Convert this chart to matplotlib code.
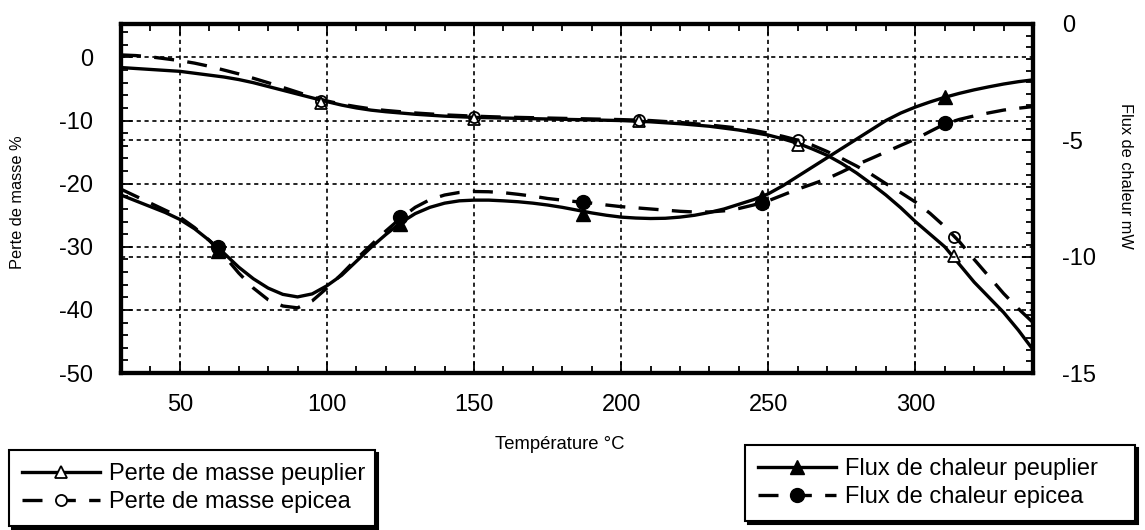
import numpy as np
import matplotlib
matplotlib.use("Agg")
import matplotlib.pyplot as plt
from matplotlib.lines import Line2D
from matplotlib.ticker import MultipleLocator

plt.rcParams["font.family"] = ["Liberation Sans", "DejaVu Sans"]
plt.rcParams["axes.unicode_minus"] = False

# ── data ───────────────────────────────────────────────────────────────────
temp = list(range(30, 341, 5))

# Perte de masse % (left axis)
masse_peuplier = [-1.6, -1.75, -1.9, -2.05, -2.2, -2.5, -2.8, -3.1, -3.5, -4.0,
                  -4.6, -5.2, -5.8, -6.4, -7.0, -7.55, -8.0, -8.35, -8.6, -8.8,
                  -9.0, -9.15, -9.3, -9.4, -9.5, -9.55, -9.6, -9.65, -9.7, -9.75,
                  -9.8, -9.85, -9.9, -9.95, -10.0, -10.1, -10.2, -10.35, -10.5, -10.7,
                  -10.9, -11.2, -11.5, -11.9, -12.3, -12.9, -13.6, -14.5, -15.5, -16.8,
                  -18.3, -20.0, -21.8, -23.8, -26.0, -28.0, -30.0, -32.8, -35.6, -38.0,
                  -40.4, -43.2, -46.3]
masse_epicea = [0.4, 0.3, 0.1, -0.2, -0.5, -0.9, -1.4, -2.0, -2.6, -3.3,
                -4.0, -4.75, -5.5, -6.25, -6.9, -7.4, -7.8, -8.15, -8.4, -8.6,
                -8.8, -8.95, -9.1, -9.2, -9.3, -9.38, -9.45, -9.5, -9.55, -9.6,
                -9.65, -9.7, -9.75, -9.8, -9.85, -9.92, -10.0, -10.15, -10.3, -10.5,
                -10.7, -10.95, -11.2, -11.55, -12.0, -12.5, -13.1, -13.9, -14.9, -16.0,
                -17.2, -18.5, -20.0, -21.4, -22.9, -24.7, -26.8, -29.2, -32.0, -34.7,
                -37.4, -39.8, -42.0]

# Flux de chaleur mW (right axis)
flux_peuplier = [-7.35, -7.6, -7.85, -8.1, -8.4, -8.8, -9.3, -9.85, -10.45, -10.95,
                 -11.35, -11.62, -11.73, -11.6, -11.25, -10.8, -10.2, -9.6, -9.05, -8.55,
                 -8.15, -7.88, -7.7, -7.6, -7.57, -7.57, -7.6, -7.64, -7.7, -7.78,
                 -7.88, -8.0, -8.12, -8.22, -8.3, -8.34, -8.36, -8.35, -8.3, -8.22,
                 -8.1, -7.95, -7.75, -7.55, -7.3, -6.95, -6.55, -6.15, -5.75, -5.35,
                 -4.95, -4.55, -4.15, -3.83, -3.57, -3.35, -3.15, -2.98, -2.83, -2.7,
                 -2.58, -2.48, -2.4]
flux_epicea = [-7.1, -7.4, -7.7, -8.0, -8.3, -8.75, -9.3, -9.95, -10.7, -11.35,
               -11.85, -12.12, -12.2, -11.9, -11.35, -10.75, -10.1, -9.5, -8.9, -8.35,
               -7.88, -7.55, -7.35, -7.24, -7.2, -7.21, -7.25, -7.32, -7.4, -7.5,
               -7.57, -7.64, -7.7, -7.78, -7.85, -7.9, -7.95, -8.0, -8.05, -8.08,
               -8.08, -8.03, -7.93, -7.78, -7.6, -7.35, -7.1, -6.88, -6.65, -6.36,
               -6.05, -5.78, -5.5, -5.22, -4.95, -4.62, -4.3, -4.1, -3.95, -3.82,
               -3.7, -3.62, -3.55]

# marker positions
mk_masse_t = [98, 150, 206, 260, 313]
mk_masse_peuplier = [-7.2, -9.7, -10.1, -13.8, -31.5]
mk_masse_epicea = [-6.9, -9.4, -9.9, -13.1, -28.5]

mk_flux_t = [63, 125, 187, 248, 310]
mk_flux_peuplier = [-9.75, -8.6, -8.15, -7.45, -3.15]
mk_flux_epicea = [-9.6, -8.3, -7.65, -7.7, -4.25]

# ── plotting ───────────────────────────────────────────────────────────────
LW = 2.4
DASH = (0, (6.0, 4.0))

fig = plt.figure(figsize=(11.45, 5.30), dpi=100)
ax = fig.add_axes([121 / 1145, 1 - 373 / 530, 912 / 1145, 349 / 530])
ax2 = ax.twinx()

grid_kw = dict(color="black", linewidth=1.2, linestyle=(0, (2.5, 2.2)))

ax.plot(temp, masse_peuplier, color="black", lw=LW, zorder=3)
ax.plot(temp, masse_epicea, color="black", lw=LW, linestyle=DASH, zorder=3)
ax.plot(mk_masse_t, mk_masse_peuplier, linestyle="none", marker="^", ms=8,
        mfc="white", mec="black", mew=1.3, zorder=4)
ax.plot(mk_masse_t, mk_masse_epicea, linestyle="none", marker="o", ms=8,
        mfc="none", mec="black", mew=1.3, zorder=4)

ax2.plot(temp, flux_peuplier, color="black", lw=LW, zorder=3)
ax2.plot(temp, flux_epicea, color="black", lw=LW, linestyle=DASH, zorder=3)
ax2.plot(mk_flux_t, mk_flux_peuplier, linestyle="none", marker="^", ms=10,
         color="black", zorder=4)
ax2.plot(mk_flux_t, mk_flux_epicea, linestyle="none", marker="o", ms=10,
         color="black", zorder=4)

ax.set_xlim(30, 340)
ax.set_ylim(-50, 5.3)
ax2.set_ylim(-15, 0)

ax.xaxis.set_major_locator(MultipleLocator(50))
ax.xaxis.set_minor_locator(MultipleLocator(10))
ax.yaxis.set_major_locator(MultipleLocator(10))
ax.yaxis.set_minor_locator(MultipleLocator(2))
ax2.yaxis.set_major_locator(MultipleLocator(5))
ax2.yaxis.set_minor_locator(MultipleLocator(0.5))

# dotted grid for both scales
for t in range(50, 301, 50):
    ax.axvline(t, zorder=1, **grid_kw)
for v in range(0, -41, -10):
    ax.axhline(v, zorder=1, **grid_kw)
for v in (-5, -10):
    ax2.axhline(v, zorder=1, **grid_kw)

ax.tick_params(which="both", direction="in", top=True, right=False,
               labelsize=17, width=1.3)
ax.tick_params(axis="x", pad=15)
ax.tick_params(axis="y", pad=20)
ax.tick_params(which="major", length=8)
ax.tick_params(which="minor", length=5)
ax2.tick_params(which="both", direction="in", labelsize=17, width=1.3, pad=21)
ax2.tick_params(which="major", length=8)
ax2.tick_params(which="minor", length=5)

for a in (ax, ax2):
    for s in a.spines.values():
        s.set_linewidth(3)

ax.set_xlabel("Température °C", fontsize=13.3)
ax.xaxis.set_label_coords(0.481, -0.18)
ax.set_ylabel("Perte de masse %", fontsize=11.8)
ax.yaxis.set_label_coords(-0.105, 0.49)
ax2.set_ylabel("Flux de chaleur mW", fontsize=11.8, rotation=-90, va="center")
ax2.yaxis.set_label_coords(1.101, 0.565)

# ── legends ────────────────────────────────────────────────────────────────
h_mp = Line2D([], [], color="black", lw=LW, marker="^", ms=8, mfc="white", mew=1.3)
h_me = Line2D([], [], color="black", lw=LW, linestyle=DASH, marker="o", ms=8,
              mfc="white", mew=1.3)
h_fp = Line2D([], [], color="black", lw=LW, marker="^", ms=10)
h_fe = Line2D([], [], color="black", lw=LW, linestyle=DASH, marker="o", ms=10)

leg_kw = dict(fontsize=17, frameon=True, fancybox=False, numpoints=1,
              handlelength=3.3, handletextpad=0.4, labelspacing=0.25,
              borderpad=0.55, borderaxespad=0, mode="expand",
              shadow={"color": "black", "alpha": 1})

leg1 = fig.legend([h_mp, h_me], ["Perte de masse peuplier", "Perte de masse epicea"],
                  loc="upper left",
                  bbox_to_anchor=(9 / 1145, 1 - 450 / 530, 366 / 1145, 0), **leg_kw)
leg2 = fig.legend([h_fp, h_fe], ["Flux de chaleur peuplier", "Flux de chaleur epicea"],
                  loc="upper left",
                  bbox_to_anchor=(745 / 1145, 1 - 445 / 530, 390 / 1145, 0), **leg_kw)
for lg in (leg1, leg2):
    fr = lg.get_frame()
    fr.set_edgecolor("black")
    fr.set_linewidth(1.5)
    fr.set_alpha(1)

fig.savefig("out.png", dpi=100)
